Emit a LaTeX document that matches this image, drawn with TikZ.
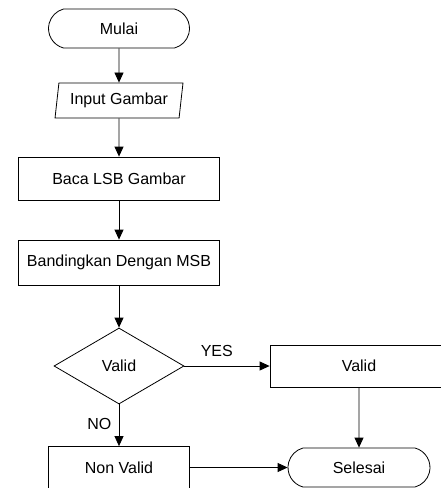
\documentclass[tikz,border=0pt]{standalone}
\usepackage{fontspec}
\setmainfont{Liberation Sans}
\usetikzlibrary{positioning}
\usetikzlibrary{arrows.meta}
\usetikzlibrary{shapes.geometric}
\usetikzlibrary{shapes.misc}
\tikzset{
terminal/.style={draw, fill=white, rounded rectangle, rounded rectangle arc length=150, minimum width=141, minimum height=39, inner sep=0},
inputbox/.style={draw, fill=white, trapezium, trapezium left angle=78, trapezium right angle=102, trapezium stretches=true, minimum width=128, minimum height=35, inner sep=0},
process/.style={draw, fill=white, rectangle, minimum width=201, minimum height=43, inner sep=0},
decision/.style={draw, fill=white, diamond, minimum width=130, minimum height=76, inner sep=0},
flow/.style={-{Triangle[length=10pt,width=9pt]}}
}

\begin{document}
\begin{tikzpicture}[x=1pt, y=-1pt, line width=0.8pt, font=\fontsize{16}{19}\selectfont]
\def \colx {119}
\def \rightx {359}
\useasboundingbox (0,0) rectangle (441,488);
\clip (0,0) rectangle (441,488);
\node[terminal] (mulai) at (\colx,28.5) {Mulai};
\node[inputbox] (input) at (\colx,100.5) {Input Gambar};
\node[process] (baca) at (\colx,178.5) {Baca LSB Gambar};
\node[process, minimum height=45] (banding) at (\colx,262.5) {Bandingkan Dengan MSB};
\node[decision] (cek) at (\colx,366) {Valid};
\node[process, minimum width=178, minimum height=42] (valid) at (\rightx,366) {Valid};
\node[process, minimum width=141, minimum height=42] (nonvalid) at (\colx,467.5) {Non Valid};
\node[terminal, minimum width=142] (selesai) at (\rightx,467.5) {Selesai};
\draw[flow] (mulai) -- (input);
\draw[flow] (input) -- (baca);
\draw[flow] (baca) -- (banding);
\draw[flow] (banding) -- (cek);
\draw[flow] (cek) -- node[pos=0.38, above=6pt]{YES} (valid);
\draw[flow] (cek) -- node[pos=0.47, left=4pt]{NO} (nonvalid);
\draw[flow] (valid) -- (selesai);
\draw[flow] (nonvalid) -- (selesai);
\end{tikzpicture}
\end{document}
